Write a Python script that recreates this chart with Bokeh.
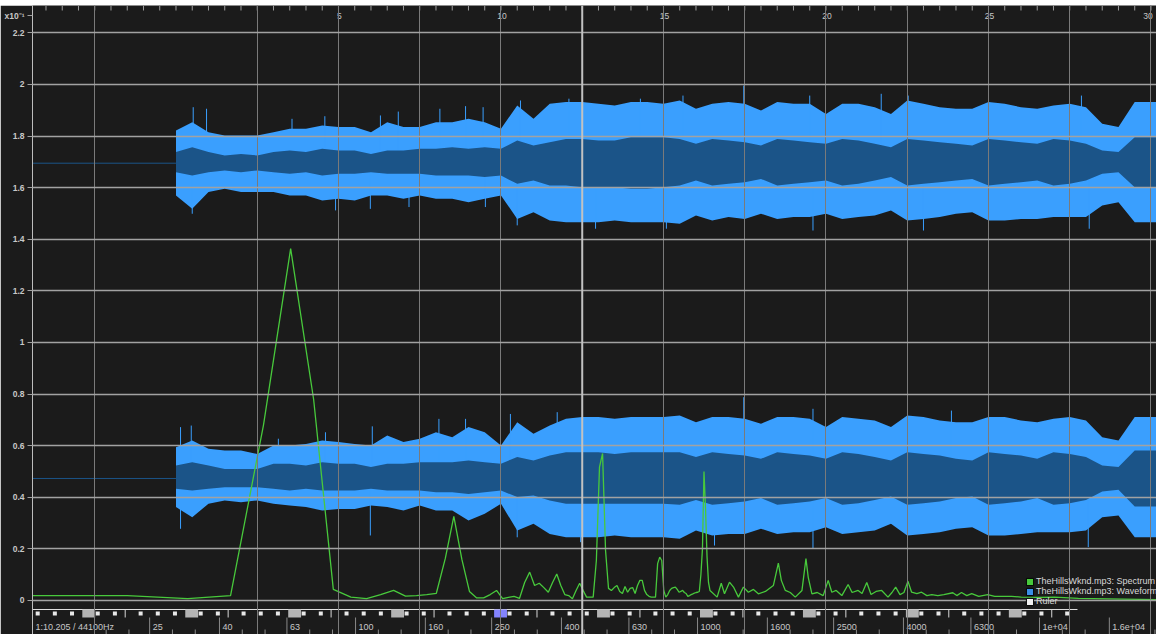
import math
from bokeh.plotting import figure
from bokeh.layouts import column
from bokeh.models import (Range1d, LogScale, FixedTicker, Legend, LegendItem,
                          CustomJSTickFormatter, Spacer, Span)
from bokeh.core.properties import value
from bokeh.embed import file_html
from bokeh.resources import INLINE

FONT = "Liberation Sans"
BG = "#1b1b1b"
WAVE_LIGHT = "#3a9ffe"
WAVE_DARK = "#1b5488"
SPEC_GREEN = "#48c93c"
TEXT = "#c8c8c8"

# ---------------------------------------------------------------- data
# visible windows of the three coordinate systems
TIME_VIEW = (-4.415, 30.17)      # seconds
FREQ_VIEW = (11.36, 21980.0)     # Hz (log)
LEVEL_VIEW = (-0.1318, 2.3062)   # scaled by 1e-1

LEVEL_TICKS = [0, 0.2, 0.4, 0.6, 0.8, 1.0, 1.2, 1.4, 1.6, 1.8, 2.0, 2.2]
EXPONENT_ROW = 2.267             # where the "x10^-1" scale marker sits on the level axis
TIME_LABELS = [5, 10, 15, 20, 25, 30]
TIME_GRID = [-2.5, 2.5, 5, 7.5, 10, 15, 17.5, 20, 22.5, 25, 27.5, 30]
PLAYHEAD = 12.5

# waveform: two channels drawn around their own baselines
CHANNEL_BASE = [1.695, 0.473]
wave_t = [0.5 * k for k in range(62)]

ch1_peak_hi = [1.822, 1.854, 1.815, 1.802, 1.802, 1.802, 1.815, 1.828, 1.828, 1.841, 1.835,
               1.835, 1.815, 1.854, 1.835, 1.835, 1.854, 1.854, 1.867, 1.854, 1.828,
               1.919, 1.867, 1.925, 1.932, 1.932, 1.925, 1.919, 1.932, 1.932, 1.925,
               1.938, 1.906, 1.925, 1.932, 1.925, 1.899, 1.932, 1.925, 1.925, 1.886,
               1.925, 1.925, 1.912, 1.886, 1.938, 1.925, 1.912, 1.906, 1.906, 1.932,
               1.925, 1.912, 1.906, 1.919, 1.925, 1.912, 1.848, 1.835, 1.932, 1.932, 1.932]
ch1_peak_lo = [1.570, 1.518, 1.583, 1.596, 1.583, 1.583, 1.583, 1.570, 1.570, 1.550, 1.557,
               1.550, 1.570, 1.570, 1.557, 1.570, 1.557, 1.557, 1.544, 1.557, 1.570,
               1.479, 1.505, 1.473, 1.466, 1.466, 1.466, 1.473, 1.466, 1.466, 1.466,
               1.460, 1.492, 1.473, 1.486, 1.479, 1.499, 1.479, 1.486, 1.486, 1.499,
               1.479, 1.486, 1.492, 1.512, 1.473, 1.479, 1.486, 1.499, 1.505, 1.473,
               1.473, 1.479, 1.479, 1.486, 1.486, 1.486, 1.531, 1.544, 1.466, 1.466, 1.466]
ch1_rms_hi = [1.738, 1.757, 1.738, 1.725, 1.731, 1.725, 1.738, 1.744, 1.738, 1.751, 1.744,
              1.744, 1.731, 1.744, 1.744, 1.751, 1.751, 1.757, 1.751, 1.757, 1.751,
              1.783, 1.764, 1.776, 1.789, 1.789, 1.783, 1.783, 1.796, 1.796, 1.796,
              1.789, 1.770, 1.789, 1.783, 1.776, 1.764, 1.789, 1.783, 1.776, 1.770,
              1.789, 1.783, 1.770, 1.757, 1.789, 1.783, 1.776, 1.770, 1.764, 1.789,
              1.783, 1.776, 1.770, 1.789, 1.783, 1.770, 1.744, 1.738, 1.796, 1.796, 1.796]
ch1_rms_lo = [1.660, 1.647, 1.660, 1.667, 1.660, 1.667, 1.660, 1.654, 1.660, 1.647, 1.654,
              1.654, 1.660, 1.654, 1.654, 1.654, 1.647, 1.647, 1.647, 1.641, 1.647,
              1.615, 1.628, 1.609, 1.609, 1.602, 1.602, 1.602, 1.596, 1.596, 1.602,
              1.609, 1.628, 1.609, 1.615, 1.621, 1.634, 1.609, 1.615, 1.621, 1.628,
              1.609, 1.615, 1.628, 1.641, 1.609, 1.615, 1.621, 1.628, 1.634, 1.609,
              1.615, 1.621, 1.628, 1.609, 1.615, 1.628, 1.654, 1.660, 1.602, 1.602, 1.602]

ch2_peak_hi = [0.594, 0.620, 0.588, 0.581, 0.581, 0.568, 0.601, 0.601, 0.607, 0.620, 0.614,
               0.607, 0.601, 0.640, 0.614, 0.627, 0.652, 0.633, 0.672, 0.652, 0.601,
               0.691, 0.646, 0.678, 0.704, 0.711, 0.711, 0.704, 0.711, 0.711, 0.711,
               0.717, 0.691, 0.711, 0.711, 0.704, 0.685, 0.711, 0.711, 0.704, 0.672,
               0.711, 0.704, 0.698, 0.672, 0.717, 0.711, 0.698, 0.691, 0.691, 0.711,
               0.711, 0.698, 0.691, 0.704, 0.711, 0.698, 0.633, 0.620, 0.711, 0.711, 0.711]
ch2_peak_lo = [0.362, 0.323, 0.375, 0.388, 0.381, 0.388, 0.375, 0.368, 0.362, 0.349, 0.355,
               0.355, 0.368, 0.362, 0.349, 0.368, 0.349, 0.349, 0.310, 0.336, 0.375,
               0.271, 0.297, 0.258, 0.245, 0.245, 0.245, 0.252, 0.245, 0.245, 0.245,
               0.239, 0.271, 0.252, 0.258, 0.258, 0.278, 0.258, 0.265, 0.265, 0.284,
               0.258, 0.265, 0.271, 0.297, 0.252, 0.258, 0.265, 0.278, 0.284, 0.252,
               0.252, 0.258, 0.265, 0.265, 0.265, 0.271, 0.323, 0.329, 0.245, 0.245, 0.245]
ch2_rms_hi = [0.523, 0.536, 0.523, 0.510, 0.510, 0.510, 0.530, 0.530, 0.523, 0.536, 0.530,
              0.530, 0.517, 0.530, 0.530, 0.536, 0.536, 0.536, 0.543, 0.536, 0.530,
              0.556, 0.543, 0.562, 0.575, 0.575, 0.575, 0.568, 0.575, 0.575, 0.575,
              0.575, 0.556, 0.575, 0.568, 0.562, 0.549, 0.575, 0.568, 0.562, 0.549,
              0.575, 0.568, 0.556, 0.543, 0.575, 0.568, 0.562, 0.549, 0.543, 0.575,
              0.568, 0.562, 0.549, 0.575, 0.568, 0.556, 0.523, 0.517, 0.581, 0.581, 0.581]
ch2_rms_lo = [0.433, 0.426, 0.433, 0.439, 0.439, 0.439, 0.433, 0.426, 0.433, 0.426, 0.426,
              0.426, 0.433, 0.426, 0.426, 0.426, 0.420, 0.420, 0.413, 0.420, 0.426,
              0.401, 0.407, 0.388, 0.375, 0.375, 0.375, 0.375, 0.375, 0.375, 0.375,
              0.371, 0.390, 0.371, 0.377, 0.384, 0.397, 0.371, 0.377, 0.384, 0.397,
              0.371, 0.377, 0.390, 0.403, 0.371, 0.377, 0.384, 0.397, 0.403, 0.371,
              0.377, 0.384, 0.397, 0.371, 0.377, 0.390, 0.422, 0.429, 0.364, 0.364, 0.364]

# isolated transients poking out of the envelope (time, tip level)
ch1_spike_t = [0.53, 0.94, 3.57, 4.58, 6.29, 6.84, 8.12, 8.91, 9.45, 10.6, 12.09, 14.29,
               15.6, 17.47, 19.5, 21.7, 22.53, 27.86,
               0.5, 4.91, 5.98, 7.17, 9.52, 10.5, 12.91, 15.09, 19.6, 23.0, 28.1]
ch1_spike_v = [1.912, 1.906, 1.867, 1.877, 1.880, 1.895, 1.906, 1.916, 1.912, 1.938, 1.945, 1.945,
               1.957, 1.996, 1.957, 1.964, 1.957, 1.957,
               1.499, 1.512, 1.518, 1.525, 1.525, 1.454, 1.441, 1.441, 1.434, 1.434, 1.441]
ch2_spike_t = [0.14, 0.47, 3.15, 4.6, 5.0, 6.04, 8.09, 8.91, 10.29, 11.73, 17.47, 19.6, 23.86,
               0.14, 5.98, 10.5, 12.45, 16.57, 19.6, 28.07]
ch2_spike_v = [0.672, 0.678, 0.627, 0.652, 0.685, 0.675, 0.704, 0.704, 0.723, 0.730, 0.788, 0.743, 0.736,
               0.278, 0.252, 0.245, 0.226, 0.213, 0.200, 0.207]

# spectrum: FFT bins up to ~1.1 kHz, then the outline of the upper band
spec_freq = [10.8, 21.5, 32.3, 43.1, 53.8, 64.6, 75.4, 86.1, 96.9, 107.7,
             118.4, 129.2, 140.0, 150.7, 161.5, 172.3, 183.0, 193.8, 204.6, 215.3,
             226.1, 236.9, 247.6, 258.4, 269.2, 279.9, 290.7, 301.5, 312.2, 323.0,
             333.8, 344.5, 355.3, 366.1, 376.8, 387.6, 398.3, 409.1, 419.9, 430.7,
             441.4, 452.2, 463.0, 473.7, 484.5, 495.3, 506.0, 516.8, 527.6, 538.3,
             549.1, 559.9, 570.6, 581.4, 592.2, 603.0, 613.7, 624.5, 635.2, 646.0,
             656.8, 667.5, 678.3, 689.1, 699.8, 710.6, 721.3, 732.1, 742.9, 753.6,
             764.4, 775.2, 785.9, 796.7, 807.5, 818.3, 829.0, 839.8, 850.5, 861.3,
             872.1, 882.8, 893.6, 904.4, 915.1, 925.9, 936.7, 947.4, 958.2, 969.0,
             979.7, 990.5, 1001.3, 1012.0, 1022.8, 1033.6, 1044.3, 1055.1, 1065.9, 1076.6,
             1087.4,
             1141, 1173, 1199, 1240, 1274, 1317, 1362, 1408, 1457, 1506,
             1579, 1666, 1723, 1758, 1806, 1867, 1931, 2020, 2075, 2107,
             2160, 2239, 2330, 2410, 2470, 2543, 2642, 2756, 2831, 2948,
             3027, 3125, 3216, 3326, 3455, 3605, 3703, 3796, 3907, 4014,
             4123, 4226, 4379, 4519, 4684, 4843, 5042, 5250, 5578, 5729,
             5913, 6127, 6335, 6641, 7055, 7395, 7907, 8287, 8844, 9933,
             11060, 12990, 15890, 22050]
spec_level = [0.019, 0.019, 0.007, 0.019, 0.680, 1.364, 0.780, 0.043, 0.013, 0.007,
              0.023, 0.039, 0.017, 0.019, 0.023, 0.028, 0.163, 0.326, 0.159, 0.035,
              0.010, 0.010, 0.023, 0.039, 0.007, 0.012, 0.016, 0.008, 0.070, 0.110,
              0.058, 0.067, 0.050, 0.032, 0.070, 0.103, 0.058, 0.023, 0.019, 0.007,
              0.039, 0.067, 0.039, 0.013, 0.013, 0.013, 0.155, 0.517, 0.570, 0.194,
              0.047, 0.039, 0.050, 0.058, 0.035, 0.027, 0.054, 0.032, 0.047, 0.050,
              0.027, 0.058, 0.078, 0.078, 0.039, 0.023, 0.016, 0.013, 0.013, 0.013,
              0.143, 0.168, 0.155, 0.039, 0.013, 0.023, 0.039, 0.047, 0.050, 0.052,
              0.043, 0.032, 0.035, 0.039, 0.031, 0.027, 0.016, 0.019, 0.023, 0.026,
              0.029, 0.031, 0.032, 0.035, 0.100, 0.200, 0.500, 0.360, 0.170, 0.070,
              0.039,
              0.013, 0.067, 0.026, 0.071, 0.052, 0.013, 0.052, 0.032, 0.043, 0.026,
              0.035, 0.058, 0.145, 0.078, 0.039, 0.031, 0.013, 0.039, 0.162, 0.090,
              0.026, 0.031, 0.019, 0.078, 0.032, 0.039, 0.019, 0.062, 0.031, 0.039,
              0.027, 0.070, 0.023, 0.035, 0.039, 0.013, 0.031, 0.052, 0.023, 0.031,
              0.075, 0.032, 0.027, 0.032, 0.019, 0.023, 0.019, 0.023, 0.030, 0.019,
              0.031, 0.019, 0.027, 0.016, 0.023, 0.016, 0.016, 0.016, 0.013, 0.012,
              0.013, 0.008, 0.006, 0.003]

FREQ_TICKS = [25, 40, 63, 100, 160, 250, 400, 630, 1000, 1600, 2500, 4000, 6300, 10000, 16000]
FREQ_LABELS = ["25", "40", "63", "100", "160", "250", "400", "630", "1000", "1600",
               "2500", "4000", "6300", "1e+04", "1.6e+04"]
FREQ_MINOR_PER_MAJOR = 3        # 1/15-decade subdivisions

# keyboard ruler: MIDI notes 0..127, middle C highlighted
MIDI_RANGE = (0, 127)
MIDDLE_C = 60
SHARP_STEPS = [1, 3, 6, 8, 10]
SPLIT_STEPS = [4.5]

FILE_INFO = "1:10.205 / 44100Hz"
SERIES = ["TheHillsWknd.mp3: Spectrum", "TheHillsWknd.mp3: Waveform", "Ruler"]

# ---------------------------------------------------------------- figure
PX_PER_UNIT = 258.0   # vertical pixels per level unit, used to place the ruler strip


def level_below_zero(px):
    return -px / PX_PER_UNIT


def note_hz(m, shift=0.0):
    return 440.0 * 2 ** ((m + shift - 69) / 12.0)


p = figure(width=1156, height=629,
           x_range=Range1d(*TIME_VIEW), y_range=Range1d(*LEVEL_VIEW),
           output_backend="svg", toolbar_location=None,
           x_axis_location=None, y_axis_location="left",
           background_fill_color=BG, border_fill_color=BG,
           min_border_left=32, min_border_right=0, min_border_top=0, min_border_bottom=0,
           outline_line_color=None)
p.extra_x_ranges = {"freq": Range1d(*FREQ_VIEW)}
p.extra_x_scales = {"freq": LogScale()}

# level axis; the topmost entry carries the x10^-1 scale marker
yax = p.yaxis[0]
yax.ticker = FixedTicker(ticks=LEVEL_TICKS + [EXPONENT_ROW], minor_ticks=[])
yax.formatter = CustomJSTickFormatter(
    args=dict(exp_row=EXPONENT_ROW),
    code="if (Math.abs(tick - exp_row) < 1e-6) { return 'x10\u207b\u00b9'; }"
         " return Number(tick.toFixed(2)).toString();")
yax.axis_line_color = "#bdbdbd"
yax.major_tick_line_color = "#a0a0a0"
yax.major_tick_out = 5
yax.major_tick_in = 0
yax.minor_tick_line_color = None
yax.major_label_text_color = TEXT
yax.major_label_text_font = FONT
yax.major_label_text_font_size = "8.5px"
yax.major_label_text_font_style = "bold"
yax.major_label_standoff = 3

p.ygrid.ticker = FixedTicker(ticks=LEVEL_TICKS, minor_ticks=[])
p.ygrid.grid_line_color = "#a2a2a2"
p.ygrid.grid_line_width = 1.3
p.ygrid.level = "guide"
p.xgrid.ticker = FixedTicker(ticks=TIME_GRID, minor_ticks=[])
p.xgrid.grid_line_color = "#7a7a7a"
p.xgrid.grid_line_width = 1
p.xgrid.level = "guide"
p.add_layout(Span(location=PLAYHEAD, dimension="height", line_color="#c2c2c2",
                  line_width=2, level="guide"))

# waveform
channels = [(ch1_peak_hi, ch1_peak_lo, ch1_rms_hi, ch1_rms_lo, ch1_spike_t, ch1_spike_v),
            (ch2_peak_hi, ch2_peak_lo, ch2_rms_hi, ch2_rms_lo, ch2_spike_t, ch2_spike_v)]
for base, (phi, plo, rhi, rlo, st, sv) in zip(CHANNEL_BASE, channels):
    p.ray(x=[wave_t[0]], y=[base], length=0, angle=math.pi, line_color=WAVE_DARK, line_width=1)
    p.varea(x=wave_t, y1=plo, y2=phi, fill_color=WAVE_LIGHT)
    p.segment(x0=st, x1=st, y0=[base] * len(st), y1=sv, line_color=WAVE_LIGHT, line_width=1)
    p.varea(x=wave_t, y1=rlo, y2=rhi, fill_color=WAVE_DARK)

# spectrum
p.line(x=spec_freq, y=spec_level, x_range_name="freq", line_color=SPEC_GREEN, line_width=1.3)

# time scale along the top edge (the last label is nudged inside the right edge)
time_marks = [round((TIME_VIEW[0] + 0.085 + 0.5 * k) * 2) / 2 for k in range(70)]
p.ray(x=time_marks, y=[LEVEL_VIEW[1]] * len(time_marks), length=5, length_units="screen",
      angle=-math.pi / 2, line_color="#9c9c9c", line_width=1)
label_nudge = [1] * (len(TIME_LABELS) - 1) + [-3]
p.text(x=TIME_LABELS, y=[LEVEL_VIEW[1]] * len(TIME_LABELS), text=[str(t) for t in TIME_LABELS],
       x_offset=label_nudge, y_offset=10, text_align="center", text_baseline="middle",
       text_font=value(FONT), text_font_size="8.5px", text_color=TEXT)

# keyboard ruler strip
lo, hi = MIDI_RANGE
c_notes = [m for m in range(lo, hi + 1) if m % 12 == 0]
sharps = [m for m in range(lo, hi + 1) if m % 12 in SHARP_STEPS]
splits = [c + s for c in c_notes for s in SPLIT_STEPS if c + s <= hi]
strip_top = level_below_zero(9)
strip_mid = level_below_zero(13)
strip_bot = level_below_zero(17)
p.segment(x0=[note_hz(lo - 0.5)], x1=[note_hz(hi + 0.5)], y0=[strip_top], y1=[strip_top],
          x_range_name="freq", line_color="#e0e0e0", line_width=1)
p.segment(x0=[note_hz(s) for s in splits], x1=[note_hz(s) for s in splits],
          y0=[strip_top] * len(splits), y1=[strip_bot] * len(splits),
          x_range_name="freq", line_color="#d8d8d8", line_width=1)
p.rect(x=[note_hz(m, 0.3) for m in sharps], y=[strip_mid] * len(sharps), width=4, height=4,
       width_units="screen", height_units="screen", x_range_name="freq",
       fill_color="#e8e8e8", line_color=None)
p.quad(left=[note_hz(c, -0.5) for c in c_notes], right=[note_hz(c, 1.0) for c in c_notes],
       top=[strip_top] * len(c_notes), bottom=[strip_bot] * len(c_notes), x_range_name="freq",
       fill_color=["#8484ff" if c == MIDDLE_C else "#b4b4b4" for c in c_notes], line_color=None)

# frequency scale along the bottom edge
minor_freqs = [f * 10 ** (k / (5.0 * FREQ_MINOR_PER_MAJOR))
               for f in [16] + FREQ_TICKS for k in range(1, FREQ_MINOR_PER_MAJOR)]
p.ray(x=minor_freqs, y=[LEVEL_VIEW[0]] * len(minor_freqs), length=5, length_units="screen",
      angle=math.pi / 2, x_range_name="freq", line_color="#8a8a8a", line_width=1)
p.ray(x=FREQ_TICKS, y=[LEVEL_VIEW[0]] * len(FREQ_TICKS), length=17, length_units="screen",
      angle=math.pi / 2, x_range_name="freq", line_color="#8a8a8a", line_width=1)
p.text(x=FREQ_TICKS, y=[LEVEL_VIEW[0]] * len(FREQ_TICKS), text=FREQ_LABELS,
       x_offset=3, y_offset=-8, text_align="left", text_baseline="middle", x_range_name="freq",
       text_font=value(FONT), text_font_size="9px", text_color=TEXT)
p.text(x=[TIME_VIEW[0]], y=[LEVEL_VIEW[0]], text=[FILE_INFO],
       x_offset=3, y_offset=-8, text_align="left", text_baseline="middle",
       text_font=value(FONT), text_font_size="9px", text_color=TEXT)

# legend with square swatches
swatches = []
for color in [SPEC_GREEN, "#3a8ee6", "#f2f2f2"]:
    swatches.append(p.quad(left=[float("nan")], right=[float("nan")],
                           top=[float("nan")], bottom=[float("nan")],
                           fill_color=color, line_color="#000000", line_width=1))
legend = Legend(items=[LegendItem(label=s, renderers=[r], index=0) for s, r in zip(SERIES, swatches)],
                location=(993, 28), orientation="vertical",
                glyph_width=9, glyph_height=9, label_height=10, label_width=10,
                spacing=0, padding=0, margin=0, label_standoff=2,
                background_fill_alpha=0, border_line_alpha=0,
                label_text_font=FONT, label_text_font_size="9px", label_text_color="#d8d8d8")
p.add_layout(legend)

page = column(Spacer(width=1156, height=5), p, spacing=0)
open("out.html", "w").write(file_html(page, INLINE))
